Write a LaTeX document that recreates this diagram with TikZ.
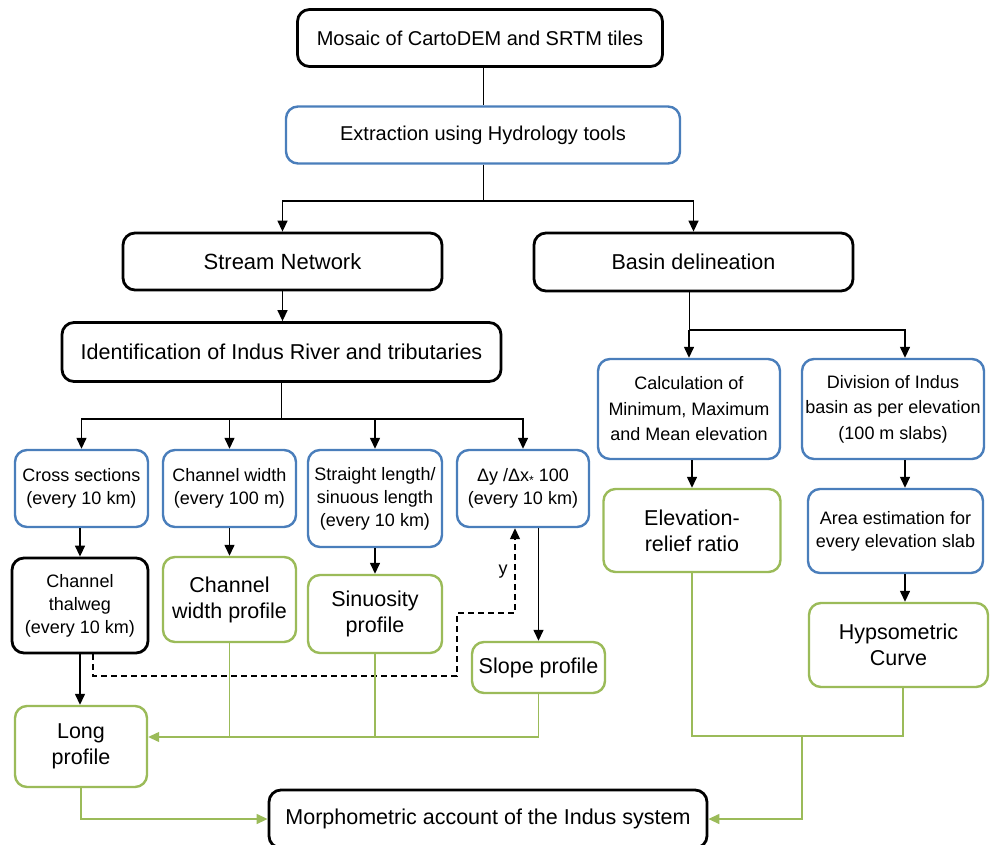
\documentclass[tikz,border=0pt]{standalone}
\usepackage{fontspec}
\setmainfont{Liberation Sans}
\usepackage{tikz}
\usetikzlibrary{positioning,arrows.meta}

\definecolor{boxblue}{RGB}{74,126,187}
\definecolor{boxgreen}{RGB}{155,187,89}

\begin{document}
\begin{tikzpicture}[
  x=1pt, y=-1pt,
  box/.style={rectangle, rounded corners=12pt, align=center, inner sep=0pt, fill=white},
  blackbox/.style={box, draw=black, line width=2.8pt},
  bluebox/.style={box, draw=boxblue, line width=2.4pt},
  greenbox/.style={box, draw=boxgreen, line width=2.4pt},
  fs/.style={font=\fontsize{18}{23}\selectfont},
  fm/.style={font=\fontsize{20}{24}\selectfont},
  fl/.style={font=\fontsize{21.5}{26}\selectfont},
  trunk/.style={line width=1pt},
  link/.style={line width=1.4pt, -{Triangle[length=11pt, width=10pt]}},
  glink/.style={boxgreen, line width=1.3pt},
  garrow/.style={glink, -{Triangle[length=11pt, width=10pt]}},
  dlink/.style={line width=1.3pt, dash pattern=on 6pt off 4pt, -{Triangle[length=11pt, width=10pt]}}
]
\useasboundingbox (0,0) rectangle (990,845);

% Top of the chain
\node[blackbox, fm, minimum width=365pt, minimum height=57pt] (mosaic) at (480,38) {Mosaic of CartoDEM and SRTM tiles};
\node[bluebox, fm, minimum width=394pt, minimum height=57pt] (extract) at (483,135) {Extraction using Hydrology tools};
\node[blackbox, fl, font=\fontsize{22}{26}\selectfont, minimum width=319pt, minimum height=57pt] (stream) at (282.5,261.5) {Stream Network};
\node[blackbox, fl, minimum width=319pt, minimum height=58pt] (basin) at (693.5,262) {Basin delineation};

\draw[trunk] (mosaic.south -| extract.north) -- (extract.north);
\coordinate (esplit) at (483,201);
\draw[trunk] (extract.south) -- (esplit);
\draw[link] (esplit) -| (stream.north);
\draw[link] (esplit) -| (basin.north);

% Stream network branch
\node[blackbox, fl, minimum width=439pt, minimum height=59pt] (ident) at (281.5,352) {Identification of Indus River and tributaries};
\draw[link] (stream.south) -- (stream.south |- ident.north);

\node[bluebox, fs, minimum width=133pt, minimum height=77pt] (cross) at (81.5,488.5) {Cross sections\\(every 10 km)};
\node[bluebox, fs, minimum width=133pt, minimum height=77pt] (cwidth) at (229.5,488.5) {Channel width\\(every 100 m)};
\node[bluebox, fs, minimum width=134pt, minimum height=97pt] (straight) at (375,498.5) {Straight length/\\sinuous length\\(every 10 km)};
\node[bluebox, fs, minimum width=132pt, minimum height=77pt] (dydx) at (523,488.5) {Δy /Δx\raisebox{-0.3ex}{\fontsize{12}{12}\selectfont *} 100\\(every 10 km)};

\coordinate (isplit) at (281.5,419);
\draw[trunk] (ident.south) -- (isplit);
\draw[link] (isplit) -| (cross.north);
\draw[link] (isplit) -| (cwidth.north);
\draw[link] (isplit) -| (straight.north);
\draw[link] (isplit) -| (dydx.north);

\node[blackbox, fs, minimum width=136pt, minimum height=95pt] (thalweg) at (80,605.5) {Channel\\thalweg\\(every 10 km)};
\node[greenbox, fl, minimum width=133pt, minimum height=85pt] (cwprof) at (229.5,599.5) {Channel\\width profile};
\node[greenbox, fl, minimum width=134pt, minimum height=78pt] (sinu) at (375,614) {Sinuosity\\profile};
\node[greenbox, fl, minimum width=133pt, minimum height=51pt] (slope) at (538.5,667.5) {Slope profile};
\node[greenbox, fl, minimum width=132pt, minimum height=81pt] (long) at (81,746.5) {Long\\profile};

\draw[link] (cross.south -| thalweg.north) -- (thalweg.north);
\draw[link] (cwidth) -- (cwprof);
\draw[link] (straight) -- (sinu);
\draw[link] (dydx.south -| slope.north) -- (slope.north);
\draw[link] (thalweg.south) -- (thalweg.south |- long.north);

% dashed feedback to the slope box
\draw[dlink] ([xshift=13pt]thalweg.south) |- (457,676) |- (515,613) -- ([xshift=-8pt]dydx.south);
\node[fs] (ylabel) at (503,572) {y};

% Basin branch
\node[bluebox, fs, minimum width=182pt, minimum height=100pt, font=\fontsize{18}{25.5}\selectfont] (calc) at (689,409) {Calculation of\\Minimum, Maximum\\and Mean elevation};
\node[bluebox, fs, minimum width=182pt, minimum height=100pt, font=\fontsize{18}{25.5}\selectfont] (divis) at (893,409) {Division of Indus\\basin as per elevation\\(100 m slabs)};
\node[greenbox, fl, minimum width=177pt, minimum height=83pt] (elev) at (692,530.5) {Elevation-\\relief ratio};
\node[bluebox, fs, minimum width=175pt, minimum height=84pt] (area) at (895.5,531) {Area estimation for\\every elevation slab};
\node[greenbox, fl, minimum width=179pt, minimum height=84pt] (hyps) at (898.5,645) {Hypsometric\\Curve};

\coordinate (rcol) at (905,0);
\coordinate (bsplit) at (689,330);
\draw[trunk] (basin.south -| calc.north) -- (bsplit);
\draw[link] (bsplit) -- (calc.north);
\draw[link] (bsplit) -| (divis.north -| rcol);
\draw[link] (calc.south -| elev.north) -- (elev.north);
\draw[link] (divis.south -| rcol) -- (area.north -| rcol);
\draw[link] (area.south -| rcol) -- (hyps.north -| rcol);

% Final box and green collectors
\node[blackbox, fl, minimum width=438pt, minimum height=58pt] (morph) at (488,819) {Morphometric account of the Indus system};

\coordinate (gjoin) at (300,736);
\draw[glink] (cwprof.south) -- (cwprof.south |- gjoin);
\draw[glink] (sinu.south) -- (sinu.south |- gjoin);
\draw[garrow] (slope.south) |- ([yshift=9.5pt]long.east);
\draw[garrow] (long.south) |- (morph.west);

\coordinate (rjoin) at (802,736);
\draw[glink] (elev.south) |- (rjoin) -| (hyps.south -| 903,0);
\draw[garrow] (rjoin) |- (morph.east);

\end{tikzpicture}
\end{document}
